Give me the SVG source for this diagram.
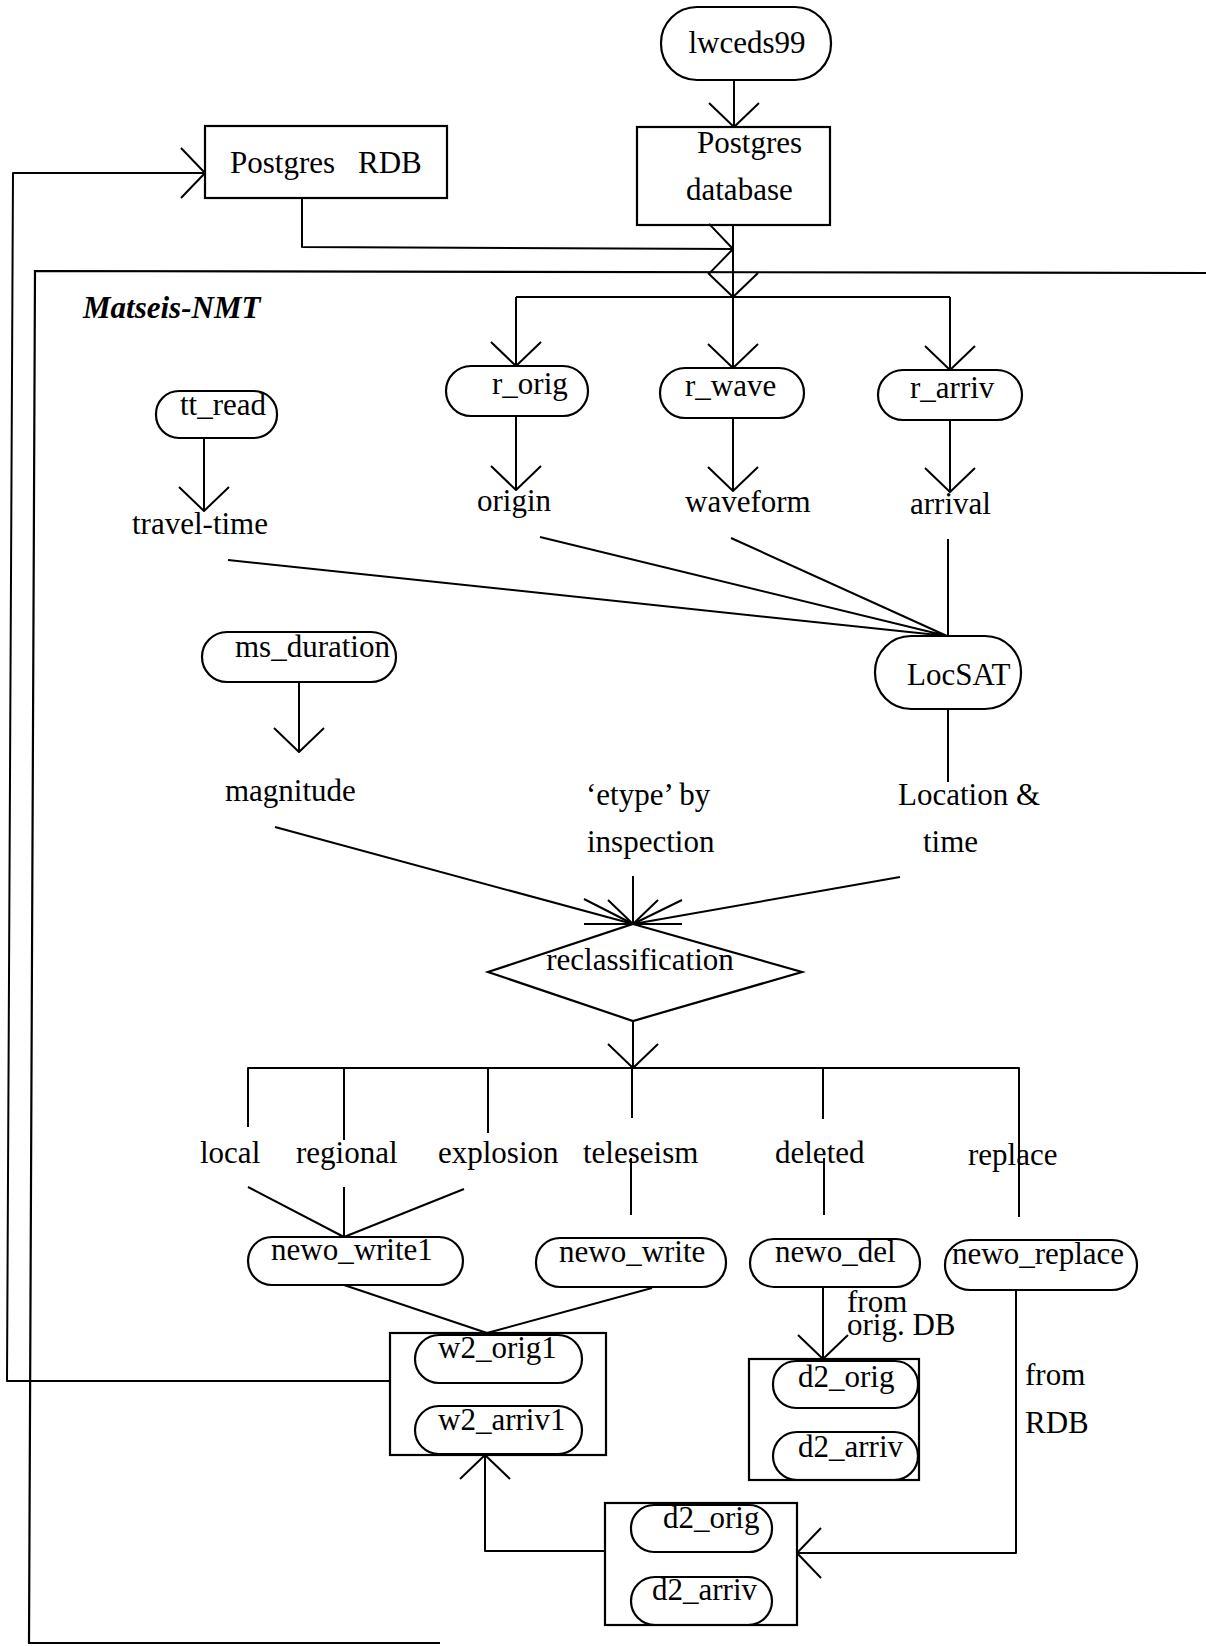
<svg xmlns="http://www.w3.org/2000/svg" width="1206" height="1646" viewBox="0 0 1206 1646">
<style>
  .s{fill:none;stroke:#000;stroke-width:2.2}
  .c{fill:none;stroke:#000;stroke-width:2;stroke-linejoin:round}
  .t{font-family:"Liberation Serif","Times New Roman",serif;font-size:31px;fill:#000}
  .ti{font-family:"Liberation Serif","Times New Roman",serif;font-size:31px;font-weight:bold;font-style:italic;fill:#000}
</style>
<defs>
  <marker id="open" markerUnits="userSpaceOnUse" viewBox="-30 -30 34 60" refX="0" refY="0" markerWidth="34" markerHeight="60" orient="auto">
    <path d="M-24,-25 L0,0 L-24,25" fill="none" stroke="#000" stroke-width="2" stroke-linejoin="round"/>
  </marker>
</defs>
<rect width="1206" height="1646" fill="#fff"/>

<g id="frame">
  <path class="s" d="M1206,273 L35,271 L29,1643 L440,1643"/>
  <text class="ti" x="83" y="318">Matseis-NMT</text>
</g>

<g id="lwceds99"><rect class="s" x="661" y="7" width="170" height="73" rx="36" ry="36"/><text class="t" x="747" y="53" text-anchor="middle">lwceds99</text></g>
<g id="postgres-database"><rect class="s" x="637" y="127" width="193" height="98"/><text class="t" x="697" y="153">Postgres</text><text class="t" x="686" y="200">database</text></g>
<g id="postgres-rdb"><rect class="s" x="205" y="126" width="242" height="72"/><text class="t" x="230" y="173">Postgres<tspan x="358">RDB</tspan></text></g>

<g id="r_orig"><rect class="s" x="446" y="366" width="142" height="50" rx="25"/><text class="t" x="492" y="394">r_orig</text></g>
<g id="r_wave"><rect class="s" x="660" y="368" width="144" height="50" rx="25"/><text class="t" x="685" y="396">r_wave</text></g>
<g id="r_arriv"><rect class="s" x="878" y="370" width="144" height="50" rx="25"/><text class="t" x="910" y="398">r_arriv</text></g>
<g id="tt_read"><rect class="s" x="156" y="391" width="121" height="47" rx="23"/><text class="t" x="180" y="415">tt_read</text></g>

<g id="travel-time"><text class="t" x="132" y="534">travel-time</text></g>
<g id="origin"><text class="t" x="477" y="511">origin</text></g>
<g id="waveform"><text class="t" x="685" y="512">waveform</text></g>
<g id="arrival"><text class="t" x="910" y="514">arrival</text></g>

<g id="LocSAT"><rect class="s" x="875" y="636" width="146" height="73" rx="36"/><text class="t" x="907" y="685">LocSAT</text></g>
<g id="ms_duration"><rect class="s" x="202" y="632" width="194" height="50" rx="25"/><text class="t" x="235" y="657">ms_duration</text></g>

<g id="magnitude"><text class="t" x="225" y="801">magnitude</text></g>
<g id="etype"><text class="t" x="586" y="805">‘etype’ by</text><text class="t" x="587" y="852">inspection</text></g>
<g id="location-time"><text class="t" x="898" y="805">Location &amp;</text><text class="t" x="923" y="852">time</text></g>

<g id="reclassification"><path class="s" d="M633,924 L802,972 L633,1021 L488,972 Z"/><text class="t" x="640" y="970" text-anchor="middle">reclassification</text></g>

<g id="labels">
  <text class="t" x="200" y="1163">local</text>
  <text class="t" x="296" y="1163">regional</text>
  <text class="t" x="438" y="1163">explosion</text>
  <text class="t" x="583" y="1163">teleseism</text>
  <text class="t" x="775" y="1163">deleted</text>
  <text class="t" x="968" y="1165">replace</text>
</g>

<g id="newo_write1"><rect class="s" x="248" y="1237" width="215" height="48" rx="24"/><text class="t" x="271" y="1260">newo_write1</text></g>
<g id="newo_write"><rect class="s" x="536" y="1238" width="190" height="49" rx="24"/><text class="t" x="559" y="1262">newo_write</text></g>
<g id="newo_del"><rect class="s" x="750" y="1239" width="170" height="48" rx="24"/><text class="t" x="775" y="1262">newo_del</text></g>
<g id="newo_replace"><rect class="s" x="945" y="1240" width="192" height="50" rx="25"/><text class="t" x="952" y="1264">newo_replace</text></g>

<g id="w2-group">
  <rect class="s" x="390" y="1333" width="216" height="122"/>
  <rect class="s" x="415" y="1335" width="167" height="48" rx="24"/><text class="t" x="438" y="1358">w2_orig1</text>
  <rect class="s" x="415" y="1406" width="167" height="48" rx="24"/><text class="t" x="438" y="1430">w2_arriv1</text>
</g>
<g id="d2-group-del">
  <rect class="s" x="749" y="1359" width="170" height="121"/>
  <rect class="s" x="773" y="1361" width="145" height="47" rx="23"/><text class="t" x="798" y="1387">d2_orig</text>
  <rect class="s" x="773" y="1432" width="145" height="48" rx="24"/><text class="t" x="798" y="1457">d2_arriv</text>
</g>
<g id="d2-group-replace">
  <rect class="s" x="605" y="1503" width="192" height="122"/>
  <rect class="s" x="631" y="1505" width="141" height="47" rx="23"/><text class="t" x="663" y="1528">d2_orig</text>
  <rect class="s" x="631" y="1577" width="141" height="48" rx="24"/><text class="t" x="652" y="1600">d2_arriv</text>
</g>

<g id="edge-labels">
  <text class="t" x="847" y="1312">from</text>
  <text class="t" x="847" y="1335">orig. DB</text>
  <text class="t" x="1025" y="1385">from</text>
  <text class="t" x="1025" y="1433">RDB</text>
</g>

<g id="connectors">
  <path class="c" d="M734,80 L734,127" marker-end="url(#open)"/>
  <path class="c" d="M302,198 L302,247 L733,249" marker-end="url(#open)"/>
  <path class="c" d="M733,225 L733,297" marker-end="url(#open)"/>
  <path class="c" d="M516,297 L950,297"/>
  <path class="c" d="M516,297 L516,366" marker-end="url(#open)"/>
  <path class="c" d="M733,297 L733,368" marker-end="url(#open)"/>
  <path class="c" d="M950,297 L950,370" marker-end="url(#open)"/>
  <path class="c" d="M516,416 L516,490" marker-end="url(#open)"/>
  <path class="c" d="M733,418 L733,491" marker-end="url(#open)"/>
  <path class="c" d="M950,420 L950,492" marker-end="url(#open)"/>
  <path class="c" d="M204,438 L204,511" marker-end="url(#open)"/>
  <path class="c" d="M228,560 L947,636 M540,537 L947,636 M731,538 L947,636 M948,539 L948,636"/>
  <path class="c" d="M948,709 L948,782"/>
  <path class="c" d="M299,682 L299,752" marker-end="url(#open)"/>
  <path class="c" d="M275,827 L633,924 M633,876 L633,924 M900,877 L633,924"/>
  <path class="c" d="M584,899 L633,924 L608,900 M658,900 L633,924 L682,900 M584,924 L682,924"/>
  <path class="c" d="M633,1021 L633,1068" marker-end="url(#open)"/>
  <path class="c" d="M248,1127 L248,1068 L1019,1068 L1019,1217"/>
  <path class="c" d="M344,1068 L344,1140 M488,1068 L488,1133 M632,1068 L632,1118 M823,1068 L823,1119"/>
  <path class="c" d="M631,1158 L631,1215 M824,1158 L824,1215"/>
  <path class="c" d="M248,1187 L344,1237 M344,1187 L344,1237 M464,1189 L344,1237"/>
  <path class="c" d="M344,1285 L487,1333 M652,1288 L487,1333"/>
  <path class="c" d="M823,1287 L823,1359" marker-end="url(#open)"/>
  <path class="c" d="M1016,1290 L1016,1553 L797,1553" marker-end="url(#open)"/>
  <path class="c" d="M605,1551 L485,1551 L485,1455" marker-end="url(#open)"/>
  <path class="c" d="M390,1381 L7,1381 L13,173 L205,173" marker-end="url(#open)"/>
</g>
</svg>
